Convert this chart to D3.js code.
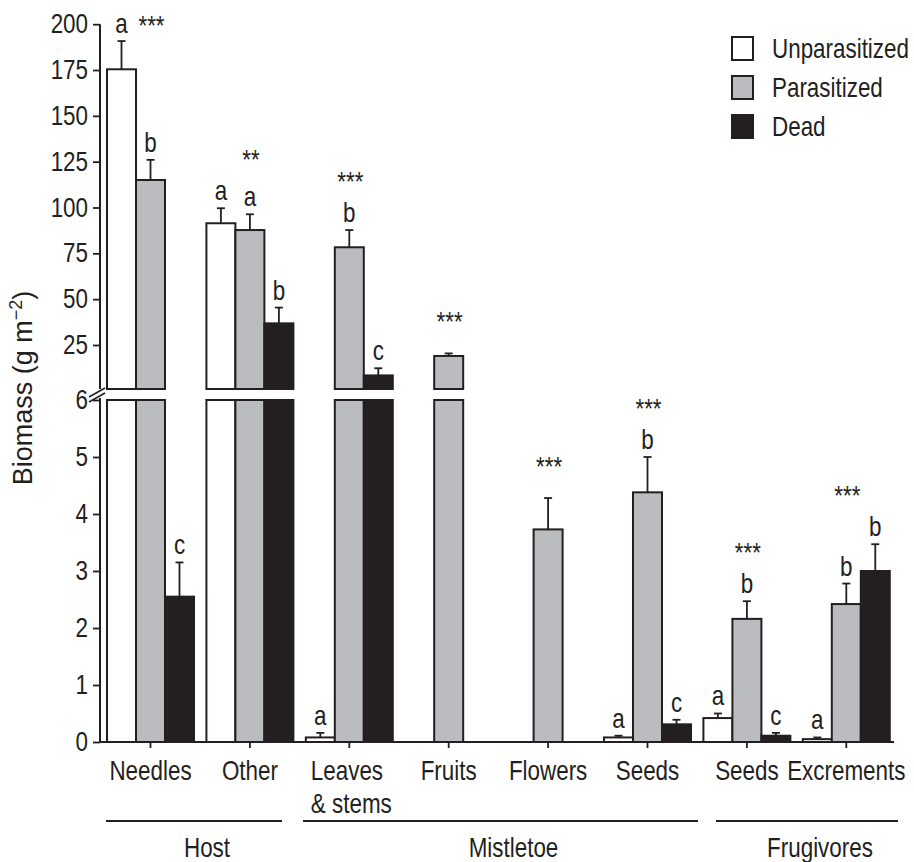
<!DOCTYPE html>
<html>
<head>
<meta charset="utf-8">
<script src="https://cdn.jsdelivr.net/npm/d3@7"></script>
<style>
  body { margin: 0; background: #fff; }
  text { font-family: "Liberation Sans", Arial, Helvetica, sans-serif; fill: #231f20; }
</style>
</head>
<body>
<svg id="chart" width="914" height="862"></svg>
<script>
// ---- data ----
const categories = [["Needles"], ["Other"], ["Leaves", "& stems"], ["Fruits"], ["Flowers"], ["Seeds"], ["Seeds"], ["Excrements"]];
const groups = [
  { name: "Host", from: 0, to: 1 },
  { name: "Mistletoe", from: 2, to: 5 },
  { name: "Frugivores", from: 6, to: 7 }
];
const seriesNames = ["Unparasitized", "Parasitized", "Dead"];
const unparasitized    = [175.4, 91.4, 0.08, null, null, 0.08, 0.42, 0.05];
const unparasitizedErr = [15.4, 8.2, 0.08, null, null, 0.03, 0.08, 0.03];
const parasitized      = [115, 87.7, 78.3, 19, 3.73, 4.38, 2.16, 2.42];
const parasitizedErr   = [11, 8.6, 9.4, 1.4, 0.55, 0.62, 0.31, 0.36];
const dead             = [2.55, 36.8, 8.4, null, null, 0.31, 0.11, 3.0];
const deadErr          = [0.6, 8.6, 3.9, null, null, 0.08, 0.05, 0.47];
const unparasitizedLetters = ["a", "a", "a", null, null, "a", "a", "a"];
const parasitizedLetters   = ["b", "a", "b", null, null, "b", "b", "b"];
const deadLetters          = ["c", "b", "c", null, null, "c", "c", "b"];
const significance = ["***", "**", "***", "***", "***", "***", "***", "***"];
const lowerTicks = [0, 1, 2, 3, 4, 5, 6];
const upperTicks = [25, 50, 75, 100, 125, 150, 175, 200];

// ---- styles ----
const ink = "#231f20";
const fills = { Unparasitized: "#ffffff", Parasitized: "#bbbcbf", Dead: "#231f20" };
const fontSize = 27;
const SX = 0.83; // condensed text width

const svg = d3.select("#chart");

// condensed text helper: x is given in page units
function label(parent, x, y, str, anchor = "middle", size = fontSize) {
  return parent.append("text")
    .attr("transform", `scale(${SX},1)`)
    .attr("x", x / SX).attr("y", y)
    .attr("text-anchor", anchor).attr("font-size", size).text(str);
}

// scales
const x0 = d3.scaleBand().domain(d3.range(categories.length)).range([100.8, 896])
  .paddingInner(0.125).paddingOuter(0.0625);
const x1 = d3.scaleBand().domain(seriesNames).range([0, x0.bandwidth()]);
const center = i => x0(i) + x0.bandwidth() / 2;

const yLow = d3.scaleLinear().domain([0, 6]).range([742, 400]);
const yHigh = d3.scaleLinear().domain([0, 200]).range([390.8, 24.2]);
const highBase = 389;
const breakValue = 6;

const values = { Unparasitized: unparasitized, Parasitized: parasitized, Dead: dead };
const errors = { Unparasitized: unparasitizedErr, Parasitized: parasitizedErr, Dead: deadErr };
const letters = { Unparasitized: unparasitizedLetters, Parasitized: parasitizedLetters, Dead: deadLetters };

const bars = [];
categories.forEach((c, i) => {
  seriesNames.forEach(s => {
    const v = values[s][i];
    if (v == null) return;
    bars.push({ i, s, v, e: errors[s][i], letter: letters[s][i] });
  });
});

// bars: lower segment capped at the break, upper segment above it
const gBars = svg.append("g");
bars.forEach(b => {
  const x = x0(b.i) + x1(b.s);
  const w = x1.bandwidth();
  const top = yLow(Math.min(b.v, breakValue));
  gBars.append("rect").attr("x", x).attr("y", top).attr("width", w).attr("height", yLow(0) - top)
    .attr("fill", fills[b.s]).attr("stroke", ink).attr("stroke-width", 2);
  if (b.v > breakValue) {
    const t = yHigh(b.v);
    gBars.append("rect").attr("x", x).attr("y", t).attr("width", w).attr("height", highBase - t)
      .attr("fill", fills[b.s]).attr("stroke", ink).attr("stroke-width", 2);
  }
});

// error bars and letters
const topY = {};
bars.forEach(b => {
  const scale = b.v > breakValue ? yHigh : yLow;
  const cx = x0(b.i) + x1(b.s) + x1.bandwidth() / 2;
  const y1 = scale(b.v), y2 = scale(b.v + b.e);
  svg.append("line").attr("x1", cx).attr("x2", cx).attr("y1", y1).attr("y2", y2)
    .attr("stroke", ink).attr("stroke-width", 1.8);
  svg.append("line").attr("x1", cx - 4).attr("x2", cx + 4).attr("y1", y2).attr("y2", y2)
    .attr("stroke", ink).attr("stroke-width", 1.8);
  let top = y2;
  if (b.letter) {
    label(svg, cx, y2 - 8, b.letter);
    top = y2 - 17;
  }
  topY[b.i] = Math.min(topY[b.i] ?? Infinity, top);
});

// significance stars
significance.forEach((s, i) => {
  const cy = Math.max(topY[i] - 35, 22);
  label(svg, center(i) + 1, cy + 13, s);
});

// y axes
const axisX = 100;
const lowerAxis = svg.append("g").attr("transform", `translate(${axisX},0)`)
  .call(d3.axisLeft(yLow).tickValues(lowerTicks).tickSize(7).tickPadding(5).tickFormat(d3.format("d")));
const upperAxis = svg.append("g").attr("transform", `translate(${axisX},0)`)
  .call(d3.axisLeft(yHigh).tickValues(upperTicks).tickSize(7).tickPadding(5).tickFormat(d3.format("d")));
[lowerAxis, upperAxis].forEach(g => {
  g.select(".domain").remove();
  g.selectAll(".tick line").attr("stroke", ink).attr("stroke-width", 1.8);
  g.selectAll(".tick text").each(function () {
    const t = d3.select(this);
    const xv = +t.attr("x");
    t.attr("x", xv / SX).attr("transform", `scale(${SX},1)`)
      .attr("font-size", fontSize).attr("font-family", null).attr("fill", ink);
  });
});
svg.append("line").attr("x1", axisX).attr("x2", axisX).attr("y1", yLow(0) + 1).attr("y2", yLow(breakValue) - 2)
  .attr("stroke", ink).attr("stroke-width", 2);
svg.append("line").attr("x1", axisX).attr("x2", axisX).attr("y1", highBase).attr("y2", yHigh(200))
  .attr("stroke", ink).attr("stroke-width", 2);
// axis break marks
[0, 5].forEach(d => {
  svg.append("line").attr("x1", axisX - 11).attr("y1", 397 + d).attr("x2", axisX + 5).attr("y2", 388 + d)
    .attr("stroke", ink).attr("stroke-width", 1.6);
});

// x axis
const baseY = yLow(0);
svg.append("line").attr("x1", axisX).attr("x2", 894).attr("y1", baseY).attr("y2", baseY)
  .attr("stroke", ink).attr("stroke-width", 2.2);
categories.forEach((c, i) => {
  svg.append("line").attr("x1", center(i)).attr("x2", center(i)).attr("y1", baseY).attr("y2", baseY + 6)
    .attr("stroke", ink).attr("stroke-width", 1.8);
  if (c.length === 1) {
    label(svg, center(i), 780, c[0]);
  } else {
    // multi-line label: lines share a left edge, block centred on the tick
    const ts = c.map((line, k) => label(svg, 0, 780 + k * 33, line, "start"));
    const wmax = d3.max(ts, t => t.node().getComputedTextLength()) * SX;
    ts.forEach(t => t.attr("x", (center(i) + 2 - wmax / 2) / SX));
  }
});

// group brackets
const groupExtents = [[106, 282], [303, 698], [716, 898]];
groups.forEach((g, k) => {
  const [a, b] = groupExtents[k];
  svg.append("line").attr("x1", a).attr("x2", b).attr("y1", 821).attr("y2", 821)
    .attr("stroke", ink).attr("stroke-width", 2);
  label(svg, (a + b) / 2 + 13, 857, g.name);
});

// y axis title
const yt = svg.append("text").attr("transform", "translate(32,388) rotate(-90)")
  .attr("text-anchor", "middle").attr("font-size", fontSize);
yt.append("tspan").text("Biomass (g m");
yt.append("tspan").attr("font-size", 18).attr("dy", -10).text("\u22122");
yt.append("tspan").attr("dy", 10).text(")");

// legend
const legend = svg.append("g").attr("transform", "translate(731,36)");
seriesNames.forEach((s, k) => {
  const g = legend.append("g").attr("transform", `translate(0,${k * 39})`);
  g.append("rect").attr("x", 1).attr("y", 1).attr("width", 21).attr("height", 23)
    .attr("fill", fills[s]).attr("stroke", ink).attr("stroke-width", 2);
  label(g, 41, 22, s, "start");
});
</script>
</body>
</html>
